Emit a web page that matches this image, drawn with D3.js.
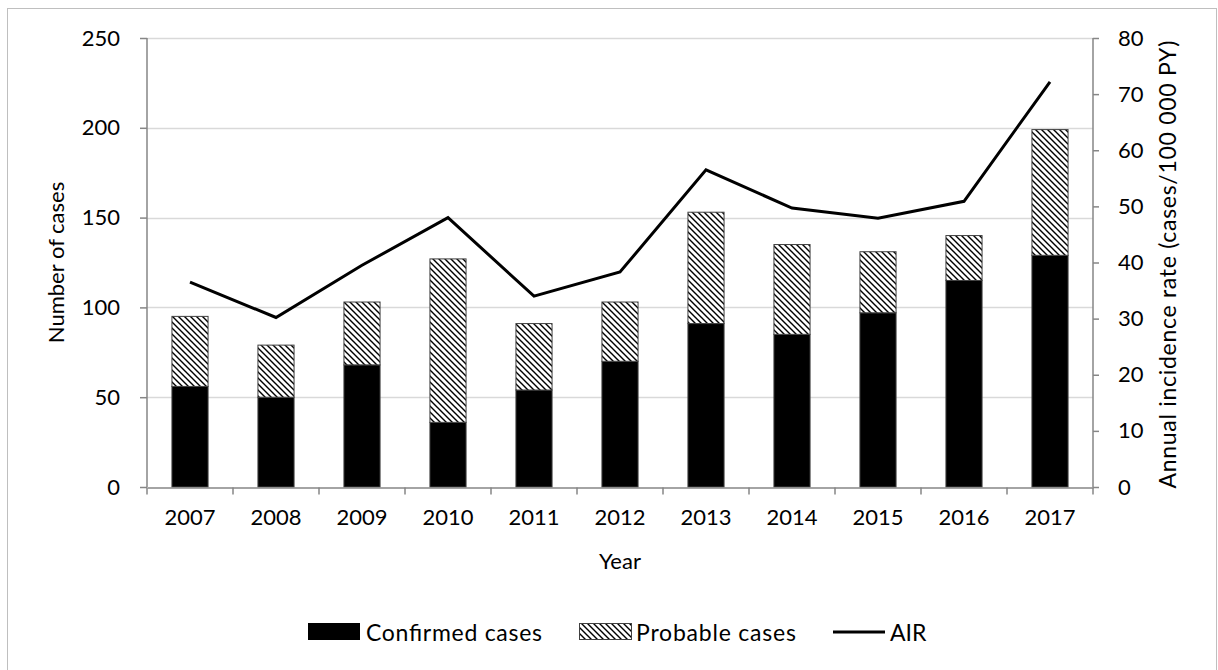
<!DOCTYPE html>
<html>
<head>
<meta charset="utf-8">
<script src="https://cdn.jsdelivr.net/npm/d3@7"></script>
<style>
  body { margin: 0; background: #fff; }
  svg text { font-family: Lato, "Open Sans", sans-serif; fill: #000; }
</style>
</head>
<body>
<svg id="chart" width="1218" height="670"></svg>
<script>
// data
var years = ["2007","2008","2009","2010","2011","2012","2013","2014","2015","2016","2017"];
var confirmed = [56, 50, 68, 36, 54, 70, 91, 85, 97, 115, 129];
var probable = [39, 29, 35, 91, 37, 33, 62, 50, 34, 25, 70];
var air = [36.5, 30.2, 39.5, 48.0, 34.0, 38.3, 56.5, 49.7, 47.9, 50.9, 72.2];
var leftTicks = [0, 50, 100, 150, 200, 250];
var rightTicks = [0, 10, 20, 30, 40, 50, 60, 70, 80];

var svg = d3.select("#chart");
var margin = {left: 147, right: 1093, top: 38, bottom: 487};

// frame
svg.append("rect")
    .attr("x", 7.5).attr("y", 8.5)
    .attr("width", 1209).attr("height", 700)
    .attr("fill", "none").attr("stroke", "#bfbfbf").attr("stroke-width", 1);

// hatch pattern for probable cases
var defs = svg.append("defs");
var pat = defs.append("pattern")
    .attr("id", "hatch")
    .attr("patternUnits", "userSpaceOnUse")
    .attr("width", 6).attr("height", 6);
pat.append("rect").attr("width", 6).attr("height", 6).attr("fill", "#fff");
pat.append("path")
    .attr("d", "M-1,-1 L7,7 M-4,2 L2,8 M4,-2 L8,2")
    .attr("stroke", "#000").attr("stroke-width", 1.4);

var x = d3.scaleBand()
    .domain(years)
    .range([margin.left, margin.right])
    .paddingInner(0.58).paddingOuter(0.29);

var xTicks = d3.scaleBand().domain(years).range([margin.left, margin.right]);

var y = d3.scaleLinear().domain([0, 250]).range([margin.bottom, margin.top]);
var y2 = d3.scaleLinear().domain([0, 80]).range([margin.bottom, margin.top]);

// gridlines
svg.append("g")
  .selectAll("line")
  .data(leftTicks.slice(1))
  .enter().append("line")
    .attr("x1", margin.left).attr("x2", margin.right)
    .attr("y1", function(d){ return Math.round(y(d)) + 0.5; })
    .attr("y2", function(d){ return Math.round(y(d)) + 0.5; })
    .attr("stroke", "#d9d9d9").attr("stroke-width", 1.5);

// bars
var stack = years.map(function(yr, i){
    return {year: yr, c: confirmed[i], p: probable[i]};
});

var bars = svg.append("g");
bars.selectAll(".conf")
  .data(stack)
  .enter().append("rect")
    .attr("class", "conf")
    .attr("x", function(d){ return x(d.year); })
    .attr("width", x.bandwidth())
    .attr("y", function(d){ return y(d.c); })
    .attr("height", function(d){ return y(0) - y(d.c); })
    .attr("fill", "#000").attr("stroke", "#404040").attr("stroke-width", 1);

bars.selectAll(".prob")
  .data(stack)
  .enter().append("rect")
    .attr("class", "prob")
    .attr("x", function(d){ return x(d.year); })
    .attr("width", x.bandwidth())
    .attr("y", function(d){ return y(d.c + d.p); })
    .attr("height", function(d){ return y(d.c) - y(d.c + d.p); })
    .attr("fill", "url(#hatch)").attr("stroke", "#404040").attr("stroke-width", 1);

// axes
var axisColor = "#868686";
var gx = svg.append("g")
    .attr("transform", "translate(0," + (margin.bottom + 0.5) + ")")
    .call(d3.axisBottom(xTicks).tickSize(0).tickPadding(22));
gx.select(".domain").attr("stroke", axisColor).attr("stroke-width", 1.5);
gx.selectAll("text").attr("font-size", 22);
// tick marks between categories
gx.selectAll(".sep")
  .data(years.concat(["end"]))
  .enter().append("line")
    .attr("x1", function(d, i){ return margin.left + i * xTicks.step(); })
    .attr("x2", function(d, i){ return margin.left + i * xTicks.step(); })
    .attr("y1", 0).attr("y2", 7)
    .attr("stroke", axisColor).attr("stroke-width", 1.5);

var gy = svg.append("g")
    .attr("transform", "translate(" + margin.left + ",0)")
    .call(d3.axisLeft(y).tickValues(leftTicks).tickSize(7).tickPadding(20));
gy.select(".domain").attr("stroke", axisColor).attr("stroke-width", 1.5).attr("d", "M0," + margin.bottom + "V" + margin.top);
gy.selectAll(".tick line").attr("stroke", axisColor).attr("stroke-width", 1.5);
gy.selectAll("text").attr("font-size", 22);

var gy2 = svg.append("g")
    .attr("transform", "translate(" + margin.right + ",0)")
    .call(d3.axisRight(y2).tickValues(rightTicks).tickSize(6).tickPadding(19));
gy2.select(".domain").attr("stroke", axisColor).attr("stroke-width", 1.5).attr("d", "M0," + margin.bottom + "V" + margin.top);
gy2.selectAll(".tick line").attr("stroke", axisColor).attr("stroke-width", 1.5);
gy2.selectAll("text").attr("font-size", 22);

// AIR line
var line = d3.line()
    .x(function(d, i){ return xTicks(years[i]) + xTicks.bandwidth() / 2; })
    .y(function(d){ return y2(d); });
svg.append("path")
    .datum(air)
    .attr("d", line)
    .attr("fill", "none").attr("stroke", "#000").attr("stroke-width", 3)
    .attr("stroke-linejoin", "miter");

// axis titles
svg.append("text")
    .attr("transform", "translate(64," + ((margin.top + margin.bottom) / 2) + ") rotate(-90)")
    .attr("text-anchor", "middle").attr("font-size", 22)
    .text("Number of cases");
svg.append("text")
    .attr("transform", "translate(1176," + ((margin.top + margin.bottom) / 2 + 2) + ") rotate(-90)")
    .attr("text-anchor", "middle").attr("font-size", 23)
    .attr("textLength", 448).attr("lengthAdjust", "spacing")
    .text("Annual incidence rate (cases/100 000 PY)");
svg.append("text")
    .attr("x", (margin.left + margin.right) / 2).attr("y", 569)
    .attr("text-anchor", "middle").attr("font-size", 22)
    .text("Year");

// legend
var legend = svg.append("g");
legend.append("rect").attr("x", 308).attr("y", 623).attr("width", 52).attr("height", 17).attr("fill", "#000");
legend.append("text").attr("x", 366).attr("y", 641).attr("font-size", 23)
    .attr("textLength", 176).attr("lengthAdjust", "spacing").text("Confirmed cases");
legend.append("rect").attr("x", 579.5).attr("y", 623.5).attr("width", 52).attr("height", 16)
    .attr("fill", "url(#hatch)").attr("stroke", "#404040").attr("stroke-width", 1);
legend.append("text").attr("x", 636).attr("y", 641).attr("font-size", 23)
    .attr("textLength", 160).attr("lengthAdjust", "spacing").text("Probable cases");
legend.append("line").attr("x1", 833).attr("x2", 885).attr("y1", 632).attr("y2", 632)
    .attr("stroke", "#000").attr("stroke-width", 3);
legend.append("text").attr("x", 890).attr("y", 641).attr("font-size", 23).text("AIR");
</script>
</body>
</html>
